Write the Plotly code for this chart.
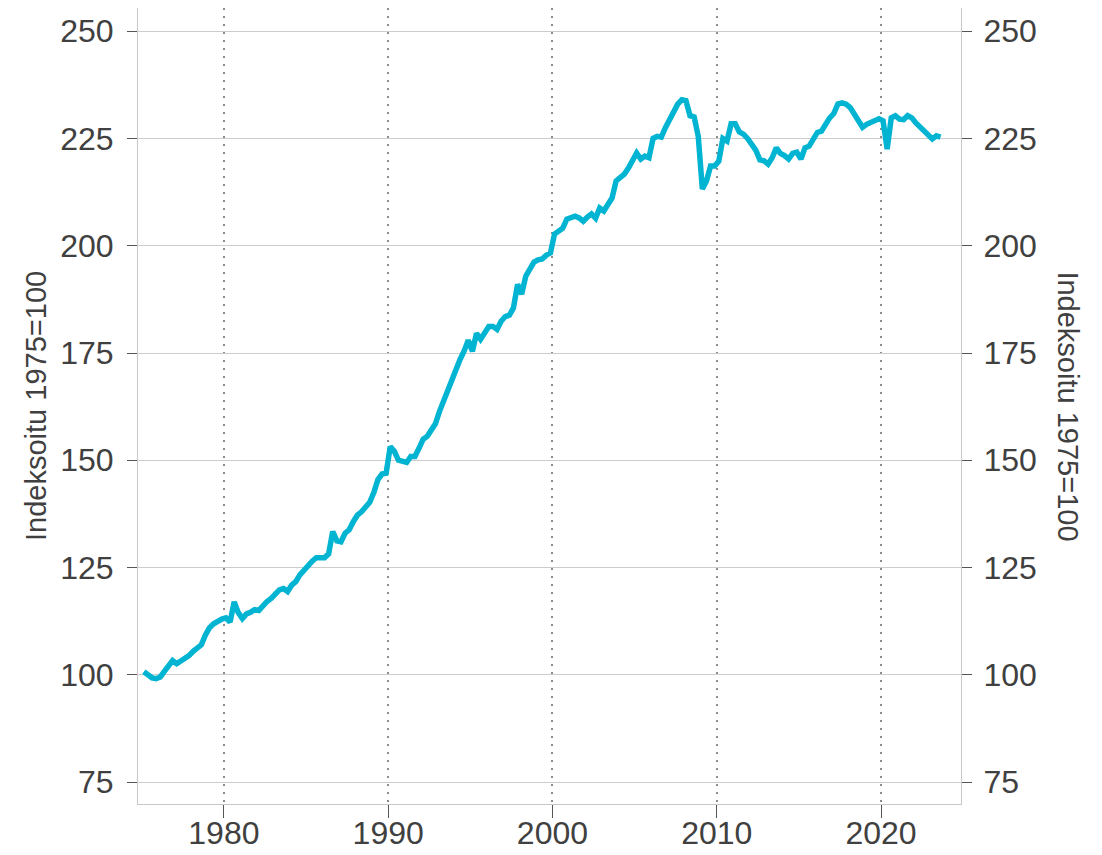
import plotly.graph_objects as go

start_year = 1975
index_values = [
    100.7, 99.9, 99.3, 99.1,      # 1975
    99.5, 100.8, 101.9, 103.3,    # 1976
    102.6, 103.2, 104.0, 104.5,   # 1977
    105.5, 106.3, 107.0, 109.3,   # 1978
    111.0, 111.9, 112.5, 113.0,   # 1979
    113.3, 112.3, 117.0, 114.5,   # 1980
    113.1, 114.2, 114.6, 115.2,   # 1981
    115.0, 116.3, 117.1, 117.8,   # 1982
    118.6, 119.8, 120.1, 119.4,   # 1983
    120.9, 121.7, 123.3, 124.5,   # 1984
    125.2, 126.5, 127.3, 127.3,   # 1985
    127.3, 128.2, 133.4, 131.2,   # 1986
    131.0, 133.0, 133.8, 135.7,   # 1987
    137.2, 138.0, 139.0, 140.2,   # 1988
    142.5, 145.5, 146.8, 147.0,   # 1989
    153.2, 152.1, 150.0, 149.7,   # 1990
    149.5, 150.9, 150.9, 152.8,   # 1991
    154.9, 155.6, 156.9, 158.5,   # 1992
    161.4, 164.0, 166.5, 169.2,   # 1993
    171.0, 173.5, 175.5, 178.0,   # 1994
    175.4, 179.6, 178.2, 180.0,   # 1995
    181.2, 181.2, 180.5, 182.4,   # 1996
    183.5, 183.8, 185.5, 191.0,   # 1997
    188.7, 192.9, 194.5, 196.2,   # 1998
    196.7, 196.9, 197.8, 198.3,   # 1999
    202.7, 203.4, 204.1, 206.2,   # 2000
    206.7, 206.9, 206.5, 205.7,   # 2001
    206.7, 207.4, 206.4, 208.8,   # 2002
    208.1, 209.8, 211.1, 215.1,   # 2003
    216.0, 216.7, 218.1, 220.0,   # 2004
    221.6, 220.2, 220.9, 220.5,   # 2005
    225.0, 225.5, 225.3, 227.5,   # 2006
    229.5, 231.5, 233.0, 234.0,   # 2007
    233.8, 230.3, 230.0, 225.5,   # 2008
    213.2, 215.1, 218.6, 218.6,   # 2009
    219.7, 225.0, 224.4, 228.4,   # 2010
    228.4, 226.5, 226.0, 225.0,   # 2011
    223.5, 222.3, 220.0, 219.8,   # 2012
    219.0, 220.5, 222.8, 221.5,   # 2013
    221.0, 220.2, 221.5, 221.8,   # 2014
    220.2, 222.8, 223.2, 225.0,   # 2015
    226.4, 226.7, 228.3, 229.8,   # 2016
    230.8, 233.0, 233.3, 233.0,   # 2017
    232.2, 230.5, 229.0, 227.6,   # 2018
    228.3, 228.8, 229.2, 229.6,   # 2019
    229.1, 222.5, 229.8, 230.3,   # 2020
    229.5, 229.4, 230.3, 229.8,   # 2021
    228.6, 227.6, 226.5, 225.8,   # 2022
    224.9, 225.6, 225.3,          # 2023
]
quarter_labels = [f"{start_year + i // 4}Q{i % 4 + 1}" for i in range(len(index_values))]
# position each quarter at its midpoint on a numeric year axis
x_pos = [int(q[:4]) + (int(q[-1]) - 1) / 4 + 0.125 for q in quarter_labels]

y_ticks = [75, 100, 125, 150, 175, 200, 225, 250]
x_ticks = [1980, 1990, 2000, 2010, 2020]
axis_title = "Indeksoitu 1975=100"

FONT = "Liberation Sans, Arial, sans-serif"
TXT = "#404040"
y_range = [69.9, 255.4]

fig = go.Figure()
fig.add_trace(go.Scatter(x=x_pos, y=index_values, mode="lines",
                         line=dict(color="#00B4D2", width=5.5),
                         hoverinfo="skip", showlegend=False))
# invisible trace for right axis
fig.add_trace(go.Scatter(x=[x_pos[0]], y=[index_values[0]], yaxis="y2",
                         mode="lines", line=dict(width=0), showlegend=False,
                         hoverinfo="skip"))

fig.update_layout(
    width=1102, height=855,
    margin=dict(l=130, r=149, t=0, b=59),
    paper_bgcolor="white", plot_bgcolor="white",
    font=dict(family=FONT, color=TXT),
    xaxis=dict(range=[1974.77, 2024.87], tickvals=x_ticks,
               showgrid=True, gridcolor="#8c8c8c", gridwidth=2, griddash="2px,6px",
               zeroline=False, showline=True, linecolor="#c8c8c8", linewidth=1,
               ticks="outside", ticklen=13, tickwidth=1, tickcolor="#555555",
               tickfont=dict(size=32, color=TXT, family=FONT), ticklabelstandoff=-12),
    yaxis=dict(range=y_range, tickvals=y_ticks,
               showgrid=True, gridcolor="#cccccc", gridwidth=1,
               zeroline=False, showline=True, linecolor="#c8c8c8", linewidth=1,
               ticks="outside", ticklen=10, tickwidth=1, tickcolor="#555555",
               tickfont=dict(size=32, color=TXT, family=FONT), ticklabelstandoff=7),
    yaxis2=dict(range=y_range, tickvals=y_ticks, overlaying="y", side="right",
                showgrid=False, zeroline=False, showline=True, linecolor="#c8c8c8",
                linewidth=1, ticks="outside", ticklen=10, tickwidth=1, tickcolor="#555555",
                tickfont=dict(size=32, color=TXT, family=FONT), ticklabelstandoff=5),
    annotations=[
        dict(text=axis_title, xref="paper", yref="paper", x=-0.124, y=0.5,
             xanchor="center", yanchor="middle", textangle=-90, showarrow=False,
             font=dict(size=29, color=TXT, family=FONT)),
        dict(text=axis_title, xref="paper", yref="paper", x=1.1295, y=0.5,
             xanchor="center", yanchor="middle", textangle=90, showarrow=False,
             font=dict(size=29, color=TXT, family=FONT)),
    ],
)

fig.write_html("out.html")
